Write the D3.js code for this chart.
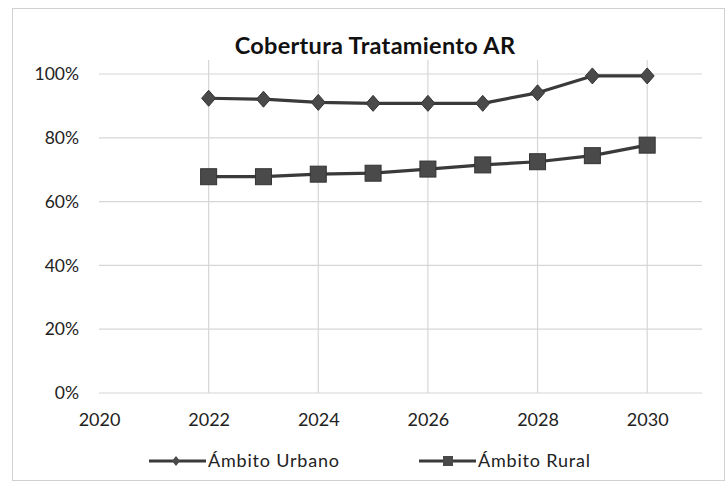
<!DOCTYPE html>
<html><head><meta charset="utf-8">
<script src="https://cdn.jsdelivr.net/npm/d3@7"></script>
<style>body{margin:0;background:#fff}svg{display:block}</style>
</head><body>
<script>
const years = [2022, 2023, 2024, 2025, 2026, 2027, 2028, 2029, 2030];
const urbano = [0.924, 0.921, 0.911, 0.908, 0.908, 0.908, 0.941, 0.994, 0.994];
const rural = [0.678, 0.678, 0.686, 0.689, 0.702, 0.715, 0.725, 0.744, 0.777];
const xTicks = [2020, 2022, 2024, 2026, 2028, 2030];
const yTicks = [0, 0.2, 0.4, 0.6, 0.8, 1.0];
const seriesNames = ["Ámbito Urbano", "Ámbito Rural"];

const W = 727, H = 484;
const svg = d3.select("body").append("svg").attr("width", W).attr("height", H);
const font = "Lato, 'Open Sans', sans-serif";
svg.append("rect").attr("x", 12.5).attr("y", 8.5).attr("width", 712).attr("height", 472)
  .attr("fill", "#fff").attr("stroke", "#d0d0d0");

const x = d3.scaleLinear().domain([2020, 2031]).range([99, 702]);
const y = d3.scaleLinear().domain([0, 1]).range([393, 74]);

const g = svg.append("g");
g.selectAll(".hg").data(yTicks).join("line")
  .attr("x1", x(2020)).attr("x2", x(2031)).attr("y1", d => y(d)).attr("y2", d => y(d))
  .attr("stroke", "#d6d6d6").attr("stroke-width", 1.2);
g.selectAll(".vg").data(xTicks.filter(d => d > 2020)).join("line")
  .attr("x1", d => x(d)).attr("x2", d => x(d)).attr("y1", y(0)).attr("y2", y(1) - 14)
  .attr("stroke", "#d6d6d6").attr("stroke-width", 1.2);

const yAxis = d3.axisLeft(y).tickValues(yTicks).tickFormat(d3.format(".0%")).tickSize(0).tickPadding(20);
const ya = svg.append("g").attr("transform", `translate(${x(2020)},0)`).call(yAxis);
ya.select(".domain").remove();
ya.selectAll("text").attr("font-family", font).attr("font-size", 17.5).attr("fill", "#222");
const xAxis = d3.axisBottom(x).tickValues(xTicks).tickFormat(d3.format("d")).tickSize(0).tickPadding(20);
const xa = svg.append("g").attr("transform", `translate(0,${y(0)})`).call(xAxis);
xa.select(".domain").remove();
xa.selectAll("text").attr("font-family", font).attr("font-size", 18).attr("fill", "#222");

svg.append("text").attr("x", 375).attr("y", 54).attr("text-anchor", "middle")
  .attr("font-family", font).attr("font-weight", "bold").attr("font-size", 23.5).attr("fill", "#111")
  .attr("letter-spacing", 0.3)
  .text("Cobertura Tratamiento AR");

const lineGen = d3.line().x((d, i) => x(years[i])).y(d => y(d));
const lineColor = "#3a3a3a";
const markColor = "#4a4a4a";
[urbano, rural].forEach((s, k) => {
  g.append("path").datum(s).attr("d", lineGen).attr("fill", "none")
    .attr("stroke", lineColor).attr("stroke-width", 3.2).attr("stroke-linejoin", "round");
  if (k === 0) {
    g.selectAll(".dm").data(s).join("path")
      .attr("transform", (d, i) => `translate(${x(years[i])},${y(d)})`)
      .attr("d", "M0,-8L7,0L0,8L-7,0Z").attr("fill", markColor).attr("stroke", "#333").attr("stroke-width", 1);
  } else {
    g.selectAll(".sq").data(s).join("rect")
      .attr("x", (d, i) => x(years[i]) - 8).attr("y", d => y(d) - 8)
      .attr("width", 16).attr("height", 16).attr("fill", markColor).attr("stroke", "#333").attr("stroke-width", 1);
  }
});

const leg = svg.append("g");
const legItems = [{name: seriesNames[0], x0: 149, type: "d"}, {name: seriesNames[1], x0: 419, type: "s"}];
legItems.forEach(it => {
  const ly = 461;
  leg.append("line").attr("x1", it.x0).attr("x2", it.x0 + 57).attr("y1", ly).attr("y2", ly)
    .attr("stroke", lineColor).attr("stroke-width", 3.2);
  if (it.type === "d") {
    leg.append("path").attr("transform", `translate(${it.x0 + 27},${ly})`).attr("d", "M0,-5L4,0L0,5L-4,0Z").attr("fill", markColor);
  } else {
    leg.append("rect").attr("x", it.x0 + 24).attr("y", ly - 5).attr("width", 10).attr("height", 10).attr("fill", markColor);
  }
  leg.append("text").attr("x", it.x0 + 59).attr("y", ly + 6).attr("font-family", font).attr("font-size", 18)
    .attr("letter-spacing", 0.8).attr("fill", "#222").text(it.name);
});
</script>
</body></html>
